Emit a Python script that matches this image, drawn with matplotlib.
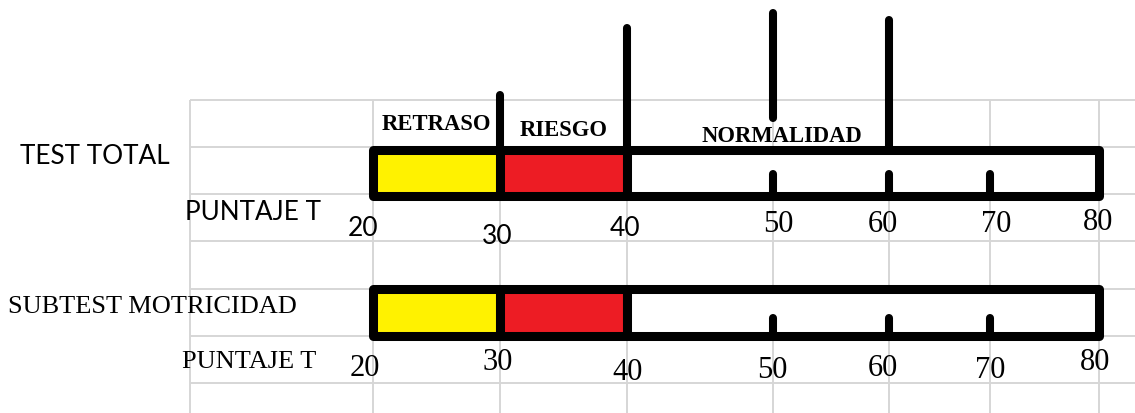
import numpy as np
import matplotlib
matplotlib.use("Agg")
import matplotlib.pyplot as plt

# ---------------- data ----------------
tests = ["TEST TOTAL", "SUBTEST MOTRICIDAD"]
scale_label = "PUNTAJE T"
zone_names = ["RETRASO", "RIESGO", "NORMALIDAD"]
zone_bounds = [20, 30, 40, 80]
zone_colors = ["#fff200", "#ed1c24", "#ffffff"]
score_ticks = [20, 30, 40, 50, 60, 70, 80]
inner_ticks = [50, 60, 70]
pointer_scores = [30, 40, 50, 60]

# ---------------- layout (pixels) ----------------
W, H = 1135, 413
column_px = [373, 500, 627, 773, 889, 990, 1099]   # spreadsheet column edges for the scores
grid_left_px = 190
grid_top_px = 100
row_lines_px = [100, 147, 194, 241, 289, 336, 383]
bar_top = [150, 289]
bar_bot = [196, 336]
inner_tick_top = [174, 318]
pointer_top = [95, 28, 13, 20]
pointer_bot = [150, 150, 118, 150]
zone_label_x = [25, 35, 50.8]
zone_label_y = [125, 130, 136]
test_label_xy = [(20, 156), (8, 307)]
test_label_font = [("Lato", 18.8), ("Liberation Serif", 19)]
scale_label_xy = [(185, 213), (182, 362)]
scale_label_font = [("Lato", 18.8), ("Liberation Serif", 19)]
num_y = [[228, 236, 228, 225, 224, 225, 223], [368, 363, 372, 370, 368, 370, 363]]
num_font = [[("Lato", 19)] * 3 + [("Liberation Serif", 22)] * 4,
            [("Liberation Serif", 22)] * 7]
num_x_off = [[-10, -3, -2, 5, -6, 6, -1], [-8, -2, 1, -1, -6, 0, -4]]

GRID = "#d6d6d6"

score_nodes = np.array(score_ticks, float)
px_nodes = np.array(column_px, float)


def _pw(v, xs, ys):
    v = np.asarray(v, float)
    out = np.interp(v, xs, ys)
    lo_slope = (ys[1] - ys[0]) / (xs[1] - xs[0])
    hi_slope = (ys[-1] - ys[-2]) / (xs[-1] - xs[-2])
    out = np.where(v < xs[0], ys[0] + (v - xs[0]) * lo_slope, out)
    out = np.where(v > xs[-1], ys[-1] + (v - xs[-1]) * hi_slope, out)
    return out


def fwd(v):
    return _pw(v, score_nodes, px_nodes)


def inv(v):
    return _pw(v, px_nodes, score_nodes)


fig = plt.figure(figsize=(W / 100, H / 100), dpi=100)
ax = fig.add_axes([0, 0, 1, 1])
ax.set_xscale("function", functions=(fwd, inv))
ax.set_xlim(float(inv(0)), float(inv(W)))
ax.set_ylim(H, 0)
ax.axis("off")

# spreadsheet grid
gx = [float(inv(grid_left_px))] + score_ticks
ax.vlines(gx, grid_top_px, H, color=GRID, lw=1.4, zorder=0)
ax.hlines(row_lines_px, float(inv(grid_left_px)), float(inv(W)), color=GRID, lw=1.4, zorder=0)

LW = 6.5
for i, name in enumerate(tests):
    top, bot = bar_top[i], bar_bot[i]
    mid, h = (top + bot) / 2, bot - top
    lefts = zone_bounds[:-1]
    widths = np.diff(zone_bounds)
    ax.barh([mid] * len(lefts), widths, left=lefts, height=h, color=zone_colors,
            edgecolor="black", linewidth=LW, joinstyle="round", zorder=2)
    # inner ticks
    for s in inner_ticks:
        ax.plot([s, s], [inner_tick_top[i], bot], color="black", lw=5.8,
                solid_capstyle="round", zorder=3)
    # labels
    fam, fs = test_label_font[i]
    tx, ty = test_label_xy[i]
    ax.text(float(inv(tx)), ty, name, family=fam, fontsize=fs, ha="left", va="center", zorder=4)
    fam, fs = scale_label_font[i]
    sx, sy = scale_label_xy[i]
    ax.text(float(inv(sx)), sy, scale_label, family=fam, fontsize=fs, ha="left", va="center", zorder=4)
    for j, s in enumerate(score_ticks):
        xpx = float(fwd(s)) + num_x_off[i][j]
        fam, fs = num_font[i][j]
        ax.text(float(inv(xpx)), num_y[i][j], str(s), family=fam, fontsize=fs,
                ha="center", va="center", zorder=4)

# pointer lines above first bar
for s, t, b in zip(pointer_scores, pointer_top, pointer_bot):
    ax.plot([s, s], [t, b], color="black", lw=5.8, solid_capstyle="round", zorder=3)

# zone labels
for name, x, y in zip(zone_names, zone_label_x, zone_label_y):
    ax.text(x, y, name, family="Liberation Serif", fontweight="bold", fontsize=16.3,
            ha="center", va="center", zorder=4)

fig.savefig("out.png", dpi=100, facecolor="white")
